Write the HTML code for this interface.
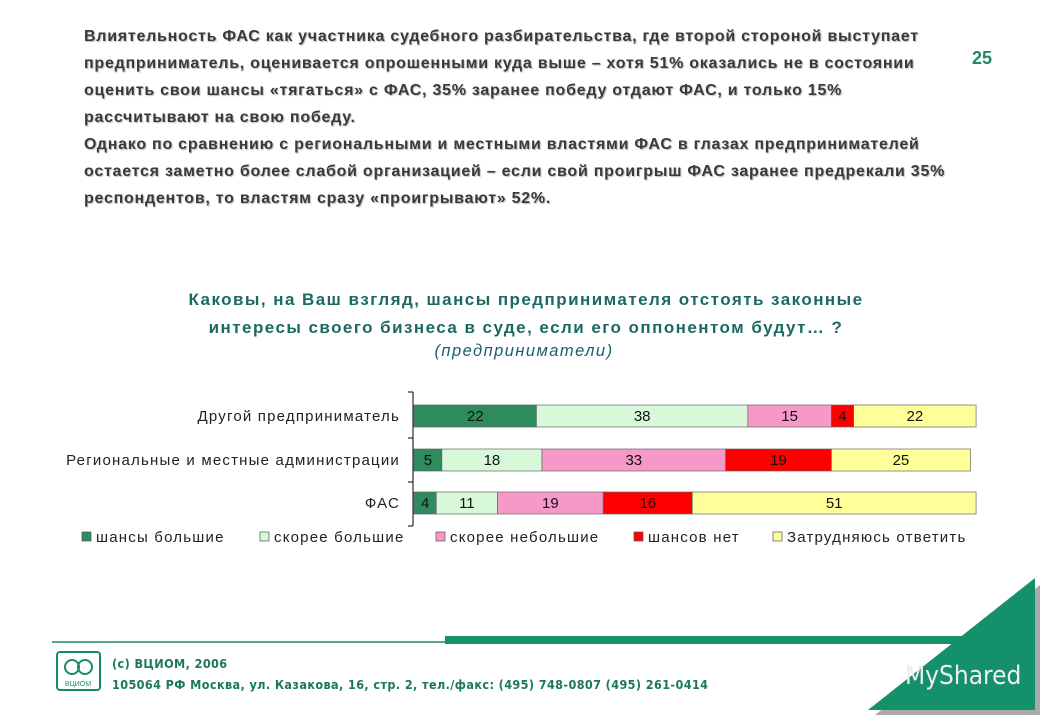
<!DOCTYPE html>
<html><head><meta charset="utf-8"><style>
body{margin:0;width:1040px;height:720px;background:#fff;position:relative;overflow:hidden;font-family:"Liberation Sans",sans-serif}
.p{position:absolute;left:84px;top:23px;width:960px;white-space:nowrap;font-size:16px;letter-spacing:0.75px;font-weight:bold;line-height:27px;color:#3a3a3a;text-shadow:1px 1px 1px #bbb}
.num{position:absolute;left:972px;top:48px;font-size:18px;font-weight:bold;color:#1f8a5f}
.t{position:absolute;left:0;width:1040px;text-align:center;color:#1b6a62;font-size:17px;font-weight:bold;letter-spacing:1.45px}
.foot{position:absolute;left:112px;top:653px;font-family:"DejaVu Sans Condensed","Liberation Sans",sans-serif;font-size:12.5px;font-weight:bold;color:#1a7a55;line-height:21px;letter-spacing:0.4px}
</style></head><body>
<div class="p">Влиятельность ФАС как участника судебного разбирательства, где второй стороной выступает<br>предприниматель, оценивается опрошенными куда выше – хотя 51% оказались не в состоянии<br>оценить свои шансы «тягаться» с ФАС, 35% заранее победу отдают ФАС, и только 15%<br>рассчитывают на свою победу.<br>Однако по сравнению с региональными и местными властями ФАС в глазах предпринимателей<br>остается заметно более слабой организацией – если свой проигрыш ФАС заранее предрекали 35%<br>респондентов, то властям сразу «проигрывают» 52%.</div>
<div class="num">25</div>
<div class="t" style="top:286px;left:6px;line-height:28px">Каковы, на Ваш взгляд, шансы предпринимателя отстоять законные<br>интересы своего бизнеса в суде, если его оппонентом будут… ?</div>
<div class="t" style="top:342px;left:4px;font-weight:normal;font-style:italic;font-size:16.5px;color:#1b5e6a">(предприниматели)</div>
<svg width="1040" height="720" style="position:absolute;left:0;top:0" id="c">
<line x1="52" y1="642" x2="445" y2="642" stroke="#1a8a60" stroke-width="1.5"/>
<rect x="445" y="636" width="530" height="8" fill="#14906a"/>
<polygon points="1040,715 875,715 1040,585" fill="#aaa"/>
<polygon points="1035,710 868,710 1035,578" fill="#14906a"/>
<text x="905" y="684" font-size="26" fill="#eee" font-family="DejaVu Sans Condensed,sans-serif">MyShared</text>
<rect x="57" y="652" width="43" height="38" fill="none" stroke="#1a8a60" stroke-width="2" rx="3"/>
<text x="78" y="686" font-size="7" fill="#1a8a60" text-anchor="middle">ВЦИОМ</text>
<circle cx="72" cy="667" r="7" fill="none" stroke="#1a8a60" stroke-width="2"/><circle cx="85" cy="667" r="7" fill="none" stroke="#1a8a60" stroke-width="2"/>
</svg>
<div class="foot">(c) ВЦИОМ, 2006<br>105064 РФ Москва, ул. Казакова, 16, стр. 2, тел./факс: (495) 748-0807 (495) 261-0414</div>
<script>
const categories=["Другой предприниматель","Региональные и местные администрации","ФАС"];
const seriesNames=["шансы большие","скорее большие","скорее небольшие","шансов нет","Затрудняюсь ответить"];
const s1=[22,5,4];
const s2=[38,18,11];
const s3=[15,33,19];
const s4=[4,19,16];
const s5=[22,25,51];
const series=[s1,s2,s3,s4,s5];
const colors=["#2e8b5e","#d8f8da","#f799c8","#ff0000","#ffff99"];
const svg=document.getElementById('c');const NS="http://www.w3.org/2000/svg";
const x0=414,unit=5.565,rowTop=[405,449,492],bh=22;
function sx(v){return x0+v*unit;}
function mk(t,a){const e=document.createElementNS(NS,t);for(const k in a)e.setAttribute(k,a[k]);svg.appendChild(e);return e;}
const ax=mk('line',{x1:413,y1:392,x2:413,y2:526,stroke:'#000'});


[392,438,482,526].forEach(y=>mk('line',{x1:408,y1:y,x2:413,y2:y,stroke:'#000'}));
categories.forEach((c,i)=>{
 const y=rowTop[i];let cum=0;
 const lb=mk('text',{x:400,y:y+16,'text-anchor':'end','font-size':15,'letter-spacing':1.2,fill:'#222'});lb.textContent=c;
 
 
 series.forEach((s,j)=>{
  const v=s[i];
  const r=mk('rect',{x:sx(cum),y:y,width:v*unit,height:bh,fill:colors[j],stroke:'#666','stroke-width':0.7});
  
  
  const t=mk('text',{x:sx(cum+v/2),y:y+16,'text-anchor':'middle','font-size':15,fill:'#111'});t.textContent=v;
  
  
  cum+=v;
 });
});
const lx=[82,260,436,634,773];
seriesNames.forEach((n,j)=>{
 const r=mk('rect',{x:lx[j],y:532,width:9,height:9,fill:colors[j],stroke:'#555','stroke-width':0.7});
 
 
 const t=mk('text',{x:lx[j]+14,y:542,'font-size':15,'letter-spacing':1.2,fill:'#222'});t.textContent=n;
 
 
});
</script>
</body></html>
